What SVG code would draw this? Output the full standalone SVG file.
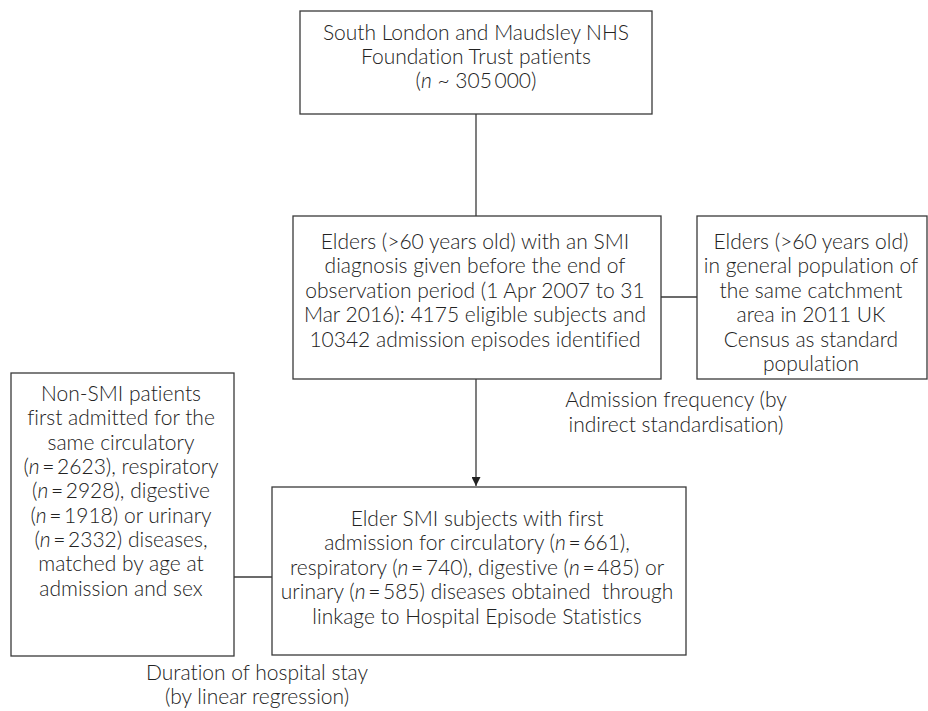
<svg xmlns="http://www.w3.org/2000/svg" width="928" height="711" viewBox="0 0 928 711">
<defs>
<style>
.box{fill:#fff;stroke:#3a3a3a;stroke-width:1.3}
.t{font-family:Lato,"Liberation Sans",sans-serif;font-size:21px;font-weight:300;fill:#222;text-anchor:middle;font-variant-ligatures:none}
.i{font-style:italic}
.e{stroke:#3a3a3a;stroke-width:1.3;fill:none}
</style>
<marker id="arr" viewBox="0 0 10 10" refX="10" refY="5" markerWidth="9" markerHeight="9" markerUnits="userSpaceOnUse" orient="auto">
<path d="M0,0 L10,5 L0,10 z" fill="#222"/>
</marker>
</defs>
<rect width="928" height="711" fill="#fff"/>
<g id="connectors">
<line class="e" x1="476" y1="114" x2="476" y2="216"/>
<line class="e" x1="661" y1="297" x2="697" y2="297"/>
<line class="e" x1="476" y1="379" x2="476" y2="486" marker-end="url(#arr)"/>
<line class="e" x1="234" y1="577" x2="272" y2="577"/>
</g>
<g id="n1">
<rect class="box" x="300" y="11" width="352" height="103"/>
<text class="t"><tspan x="476" y="40">South London and Maudsley NHS</tspan><tspan x="476" y="64">Foundation Trust patients</tspan><tspan x="476" y="88">(<tspan class="i">n</tspan> ~ 305&#8201;000)</tspan></text>
</g>
<g id="n2">
<rect class="box" x="293" y="216" width="368" height="163"/>
<text class="t"><tspan x="475" y="249">Elders (&gt;60 years old) with an SMI</tspan><tspan x="475" y="273">diagnosis given before the end of</tspan><tspan x="475" y="298">observation period (1 Apr 2007 to 31</tspan><tspan x="475" y="322">Mar 2016): 4175 eligible subjects and</tspan><tspan x="475" y="347">10342 admission episodes identified</tspan></text>
</g>
<g id="n3">
<rect class="box" x="697" y="216" width="230" height="163"/>
<text class="t"><tspan x="811" y="249">Elders (&gt;60 years old)</tspan><tspan x="811" y="273">in general population of</tspan><tspan x="811" y="298">the same catchment</tspan><tspan x="811" y="322">area in 2011 UK</tspan><tspan x="811" y="347">Census as standard</tspan><tspan x="811" y="371">population</tspan></text>
</g>
<g id="n4">
<rect class="box" x="11" y="373" width="223" height="283"/>
<text class="t"><tspan x="121" y="401">Non-SMI patients</tspan><tspan x="121" y="425">first admitted for the</tspan><tspan x="121" y="450">same circulatory</tspan><tspan x="121" y="474">(<tspan class="i">n</tspan>&#8201;=&#8201;2623), respiratory</tspan><tspan x="121" y="498">(<tspan class="i">n</tspan>&#8201;=&#8201;2928), digestive</tspan><tspan x="121" y="523">(<tspan class="i">n</tspan>&#8201;=&#8201;1918) or urinary</tspan><tspan x="121" y="547">(<tspan class="i">n</tspan>&#8201;=&#8201;2332) diseases,</tspan><tspan x="121" y="571">matched by age at</tspan><tspan x="121" y="596">admission and sex</tspan></text>
</g>
<g id="n5">
<rect class="box" x="272" y="487" width="414" height="168"/>
<text class="t"><tspan x="477" y="526">Elder SMI subjects with first</tspan><tspan x="477" y="550">admission for circulatory (<tspan class="i">n</tspan>&#8201;=&#8201;661),</tspan><tspan x="477" y="575">respiratory (<tspan class="i">n</tspan>&#8201;=&#8201;740), digestive (<tspan class="i">n</tspan>&#8201;=&#8201;485) or</tspan><tspan x="477" y="599">urinary (<tspan class="i">n</tspan>&#8201;=&#8201;585) diseases obtained&#160; through</tspan><tspan x="477" y="624">linkage to Hospital Episode Statistics</tspan></text>
</g>
<g id="labels">
<text class="t"><tspan x="676" y="407">Admission frequency (by</tspan><tspan x="676" y="432">indirect standardisation)</tspan></text>
<text class="t"><tspan x="257" y="680">Duration of hospital stay</tspan><tspan x="257" y="704">(by linear regression)</tspan></text>
</g>
</svg>
